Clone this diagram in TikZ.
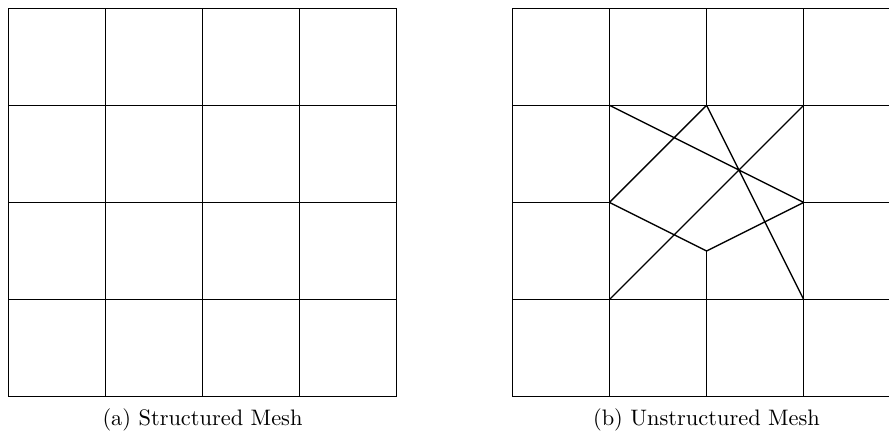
\documentclass[tikz,border=0pt]{standalone}
\begin{document}
\begin{tikzpicture}[x=0.4465pt,y=-0.4465pt,
  mesh/.style={line width=0.6pt, black},
  caption/.style={font=\normalsize, anchor=base}]
\useasboundingbox (0,0) rectangle (889,432);
\clip (0,0) rectangle (889,432);
% (a) structured mesh
\begin{scope}[shift={(8.4,396.6)}, x=43.35pt, y=43.35pt]
  \foreach \i in {0,...,4} {
    \draw[mesh] (\i,0) -- (\i,4);
    \draw[mesh] (0,\i) -- (4,\i);
  }
\end{scope}
% (b) unstructured mesh
\begin{scope}[shift={(512.4,396.6)}, x=43.35pt, y=43.35pt]
  \draw[mesh] (0,0) -- (4,0) (0,1) -- (4,1) (0,3) -- (4,3) (0,4) -- (4,4)
              (0,2) -- (1,2) (3,2) -- (4,2);
  \draw[mesh] (0,0) -- (0,4) (1,0) -- (1,4) (3,0) -- (3,4) (4,0) -- (4,4)
              (2,0) -- (2,1.5) (2,3) -- (2,4);
  \draw[mesh] (1,3) -- (3,2) (2,3) -- (1,2) (2,3) -- (3,1) (3,3) -- (1,1)
              (1,2) -- (2,1.5) -- (3,2);
\end{scope}
\node[caption] (capa) at (202.5,425) {(a) Structured Mesh};
\node[caption] (capb) at (706.5,425) {(b) Unstructured Mesh};
\end{tikzpicture}
\end{document}
